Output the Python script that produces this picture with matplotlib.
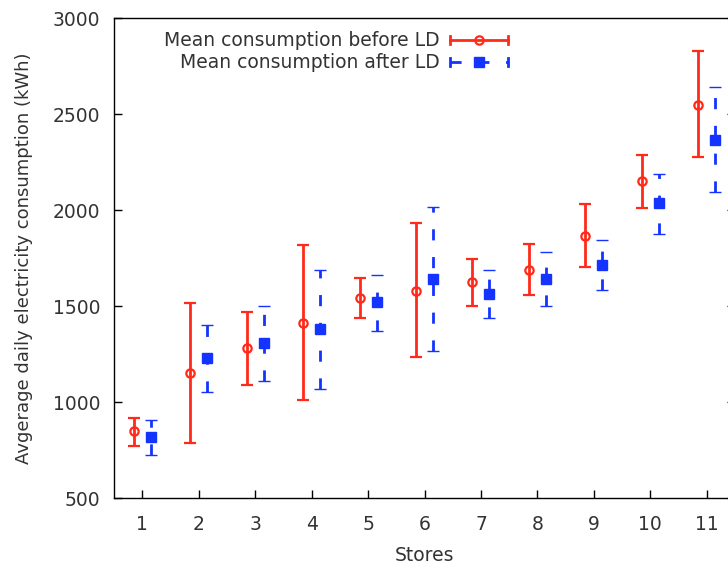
import matplotlib
matplotlib.use("Agg")
import matplotlib.pyplot as plt
from matplotlib.lines import Line2D
import numpy as np

stores = [1, 2, 3, 4, 5, 6, 7, 8, 9, 10, 11]
before_mean = [849, 1151, 1281, 1411, 1542, 1578, 1625, 1688, 1865, 2151, 2547]
before_low = [771, 786, 1089, 1010, 1437, 1234, 1500, 1557, 1703, 2010, 2276]
before_high = [917, 1516, 1469, 1818, 1646, 1932, 1745, 1823, 2031, 2286, 2828]
after_mean = [818, 1229, 1307, 1380, 1521, 1641, 1563, 1641, 1714, 2036, 2365]
after_low = [724, 1052, 1109, 1068, 1370, 1266, 1437, 1500, 1583, 1875, 2094]
after_high = [906, 1401, 1500, 1687, 1661, 2016, 1687, 1781, 1844, 2188, 2641]
labels = ["Mean consumption before LD", "Mean consumption after LD"]

RED = "#ff2a1a"
BLUE = "#1433ff"
TXT = "#333333"
DASH = (0, (4, 6))

plt.rcParams['font.family'] = ['DejaVu Sans']
fig = plt.figure(figsize=(7.28, 5.65), dpi=100)
W, H = 728, 565
ax = fig.add_axes([114 / W, 1 - 498 / H, (735 - 114) / W, (498 - 18) / H])

x = np.array(stores, dtype=float)
bm = np.array(before_mean); am = np.array(after_mean)
berr = [bm - np.array(before_low), np.array(before_high) - bm]
aerr = [am - np.array(after_low), np.array(after_high) - am]

eb1 = ax.errorbar(x - 0.15, bm, yerr=berr, fmt='o', color=RED, ecolor=RED,
                  elinewidth=2, capsize=4, capthick=2, markersize=6,
                  markerfacecolor='none', markeredgewidth=1.6, zorder=3)
eb2 = ax.errorbar(x + 0.15, am, yerr=aerr, fmt='s', color=BLUE, ecolor=BLUE,
                  elinewidth=2, capsize=4, capthick=2, markersize=7,
                  markeredgewidth=1, zorder=3)
for lc in eb2[2]:
    lc.set_linestyle(DASH)

ax.set_xlim(0.5, 11.5)
ax.set_ylim(500, 3000)
ax.set_xticks(stores)
ax.set_yticks([500, 1000, 1500, 2000, 2500, 3000])
ax.tick_params(axis='x', direction='in', length=6, width=1, colors='black',
               labelcolor=TXT, labelsize=13.5, pad=12, top=False)
ax.tick_params(axis='y', direction='in', length=6, width=1, colors='black',
               labelcolor=TXT, labelsize=13.5, pad=10, right=True)
for s in ax.spines.values():
    s.set_linewidth(1)
    s.set_color('black')

ax.set_xlabel("Stores", fontsize=13.5, color=TXT, labelpad=9)
ax.set_ylabel("Avgerage daily electricity consumption (kWh)", fontsize=13,
              color=TXT, labelpad=14)

tr = fig.transFigure
def fp(px, py):
    return (px / W, 1 - py / H)

fig.text(*fp(440, 40), labels[0], ha='right', va='center', fontsize=13.5, color=TXT)
fig.text(*fp(440, 62), labels[1], ha='right', va='center', fontsize=13.5, color=TXT)

x0, x1 = 450, 508
for (yy, col, ls, mk, mfc, ms) in [(40, RED, '-', 'o', 'none', 6), (62, BLUE, DASH, 's', BLUE, 7)]:
    a, b = fp(x0, yy), fp(x1, yy)
    fig.add_artist(Line2D([a[0], b[0]], [a[1], b[1]], color=col, lw=2, ls=ls, transform=tr))
    for xe in (x0, x1):
        c1, c2 = fp(xe, yy - 4), fp(xe, yy + 4)
        fig.add_artist(Line2D([c1[0], c2[0]], [c1[1], c2[1]], color=col, lw=2, transform=tr))
    m = fp((x0 + x1) / 2, yy)
    fig.add_artist(Line2D([m[0]], [m[1]], marker=mk, color=col, markersize=ms,
                          markerfacecolor=mfc, markeredgewidth=1.6 if mk == 'o' else 1,
                          transform=tr))

fig.savefig("out.png", dpi=100)
